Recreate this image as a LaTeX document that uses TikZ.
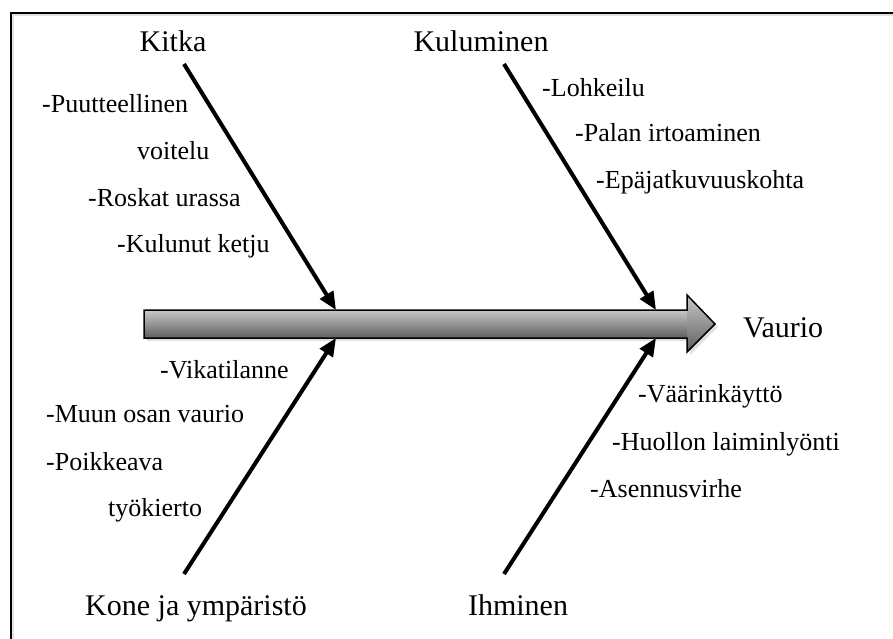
\documentclass[tikz,border=0pt]{standalone}
\usepackage{fontspec}
\setmainfont{Liberation Serif}
\usetikzlibrary{arrows.meta}
\definecolor{shadetop}{RGB}{200,200,200}
\definecolor{shadebot}{RGB}{95,95,95}
\definecolor{shadow}{RGB}{225,225,225}
\begin{document}
\begin{tikzpicture}[x=1pt,y=-1pt,
  sub/.style={inner sep=0pt, anchor=base west, font=\fontsize{26}{30}\selectfont},
  cause/.style={inner sep=0pt, anchor=base, font=\fontsize{30}{34}\selectfont},
  bone/.style={line width=4pt, -{Triangle[length=18pt,width=15pt]}},
  boneshadow/.style={line width=4pt, draw=shadow, -{Triangle[length=18pt,width=15pt]}}]
\useasboundingbox (0,0) rectangle (893,639);
% frame
\draw[line width=2.5pt, draw=shadow] (13,700) -- (13,15) -- (950,15);
\draw[line width=2.5pt] (11,700) -- (11,13) -- (950,13);
% spine shadow
\fill[shadow] (147,313) -- (690,313) -- (690,298) -- (718,327) -- (690,355) -- (690,341) -- (147,341) -- cycle;
% spine
\shade[top color=shadetop, bottom color=shadebot] (144,310) rectangle (687,338);
\shade[top color=shadetop, bottom color=shadebot] (687,295) -- (715,324) -- (687,352) -- cycle;
\draw[line width=1.5pt, line join=miter] (144,310) -- (687,310) -- (687,295) -- (715,324) -- (687,352) -- (687,338) -- (144,338) -- cycle;
% cause labels
\node[cause] (kitka) at (173,52) {Kitka};
\node[cause] (kulu) at (481,52) {Kuluminen};
\node[cause] (kone) at (196,615) {Kone ja ympäristö};
\node[cause] (ihm) at (518,615) {Ihminen};
\node[cause, anchor=base west] (vaurio) at (743,337) {Vaurio};
% bones
\coordinate (k0) at (184,64);
\coordinate (k1) at (336,310);
\coordinate (l0) at (504,64);
\coordinate (l1) at (656,310);
\coordinate (m0) at (184,574);
\coordinate (m1) at (336,338);
\coordinate (n0) at (504,574);
\coordinate (n1) at (656,338);
\begin{scope}[shift={(2.5,2.5)}]
\draw[boneshadow] (k0) -- (k1);
\draw[boneshadow] (l0) -- (l1);
\draw[boneshadow] (m0) -- (m1);
\draw[boneshadow] (n0) -- (n1);
\end{scope}
\draw[bone] (k0) -- (k1);
\draw[bone] (l0) -- (l1);
\draw[bone] (m0) -- (m1);
\draw[bone] (n0) -- (n1);
% sub causes
\node[sub] (a1) at (42,113) {-Puutteellinen};
\node[sub] (a2) at (137,160) {voitelu};
\node[sub] (a3) at (88,206) {-Roskat urassa};
\node[sub] (a4) at (117,252) {-Kulunut ketju};
\node[sub] (b1) at (542,97) {-Lohkeilu};
\node[sub] (b2) at (575,142) {-Palan irtoaminen};
\node[sub] (b3) at (596,188) {-Epäjatkuvuuskohta};
\node[sub] (c1) at (160,378) {-Vikatilanne};
\node[sub] (c2) at (46,422) {-Muun osan vaurio};
\node[sub] (c3) at (46,470) {-Poikkeava};
\node[sub] (c4) at (108,516) {työkierto};
\node[sub] (d1) at (638,402) {-Väärinkäyttö};
\node[sub] (d2) at (612,450) {-Huollon laiminlyönti};
\node[sub] (d3) at (590,497) {-Asennusvirhe};
\end{tikzpicture}
\end{document}
